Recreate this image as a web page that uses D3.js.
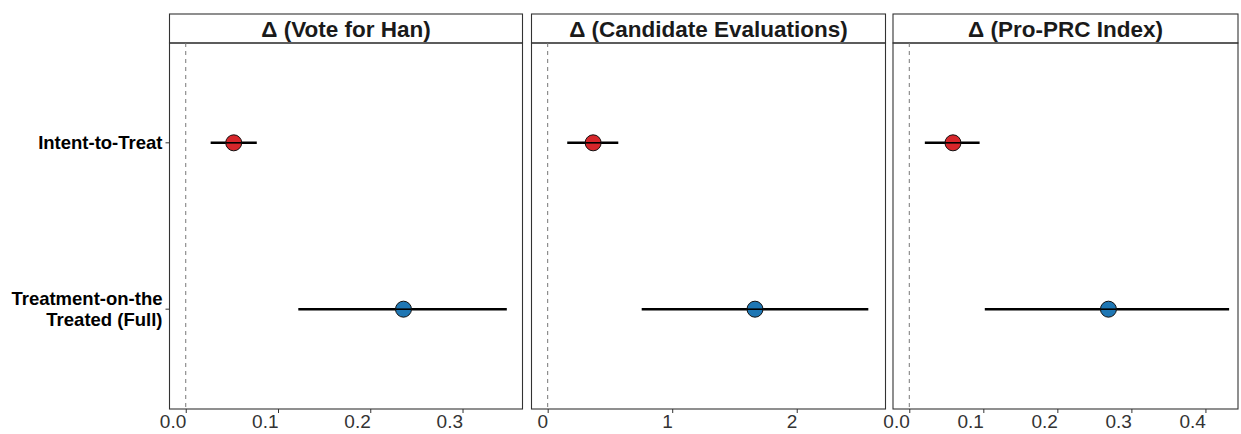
<!DOCTYPE html>
<html>
<head>
<meta charset="utf-8">
<script src="https://cdn.jsdelivr.net/npm/d3@7"></script>
<style>
  body { margin: 0; background: #fff; }
  svg { display: block; font-family: "Liberation Sans", Arial, sans-serif; }
</style>
</head>
<body>
<svg id="chart" width="1241" height="434"></svg>
<script>
// estimates and 95% intervals
const estimands = ['Intent-to-Treat', 'Treatment-on-the Treated (Full)'];
const panelTitles = ['\u0394 (Vote for Han)', '\u0394 (Candidate Evaluations)', '\u0394 (Pro-PRC Index)'];
const pointEst = [[0.052, 0.236], [0.365, 1.665], [0.059, 0.269]];
const lowerCI = [[0.027, 0.122], [0.157, 0.755], [0.021, 0.102]];
const upperCI = [[0.077, 0.348], [0.567, 2.575], [0.095, 0.432]];
const xDomains = [[-0.0176, 0.365], [-0.130, 2.713], [-0.022, 0.444]];
const xTicks = [[0, 0.1, 0.2, 0.3], [0, 1, 2], [0, 0.1, 0.2, 0.3, 0.4]];
const tickFormats = ['.1f', 'd', '.1f'];
const pointColors = ['#D7262B', '#1F77B4'];

const panelX = [[169.5, 522.5], [531.5, 885.5], [893, 1238]];
const stripTop = 14, panelTop = 43, panelBottom = 409;

const svg = d3.select('#chart');

const yScale = d3.scalePoint()
    .domain(estimands)
    .range([panelTop, panelBottom])
    .padding(0.6);

// y axis labels (left of first panel)
const yLab = svg.append('g').attr('class', 'y axis');
estimands.forEach((lab, i) => {
    const y = yScale(lab);
    yLab.append('line')
        .attr('x1', panelX[0][0] - 4).attr('x2', panelX[0][0])
        .attr('y1', y).attr('y2', y)
        .attr('stroke', '#333').attr('stroke-width', 1);
    const words = i === 0 ? [lab] : ['Treatment-on-the', 'Treated (Full)'];
    const t = yLab.append('text')
        .attr('x', panelX[0][0] - 7)
        .attr('y', y)
        .attr('text-anchor', 'end')
        .style('font-size', '18.5px')
        .style('font-weight', 'bold')
        .style('fill', '#000');
    words.forEach((w, j) => {
        t.append('tspan')
            .attr('x', panelX[0][0] - 7)
            .attr('dy', j === 0 ? (words.length === 1 ? '0.35em' : '-0.22em') : '1.12em')
            .text(w);
    });
});

panelTitles.forEach((title, p) => {
    const [x0, x1] = panelX[p];
    const xScale = d3.scaleLinear().domain(xDomains[p]).range([x0, x1]);
    const g = svg.append('g').attr('class', 'panel');

    // strip
    g.append('rect')
        .attr('x', x0).attr('y', stripTop)
        .attr('width', x1 - x0).attr('height', panelTop - stripTop)
        .attr('fill', '#fff').attr('stroke', '#333').attr('stroke-width', 1.1);
    g.append('text')
        .attr('x', (x0 + x1) / 2).attr('y', (stripTop + panelTop) / 2)
        .attr('dy', '0.36em')
        .attr('text-anchor', 'middle')
        .style('font-size', '22.5px')
        .style('font-weight', 'bold')
        .style('fill', '#1a1a1a')
        .text(title);

    // panel border
    g.append('rect')
        .attr('x', x0).attr('y', panelTop)
        .attr('width', x1 - x0).attr('height', panelBottom - panelTop)
        .attr('fill', 'none').attr('stroke', '#333').attr('stroke-width', 1.1);

    // zero line
    g.append('line')
        .attr('x1', xScale(0)).attr('x2', xScale(0))
        .attr('y1', panelTop).attr('y2', panelBottom)
        .attr('stroke', '#777').attr('stroke-width', 1)
        .attr('stroke-dasharray', '4,4');

    // x axis
    const axis = g.append('g')
        .attr('class', 'x axis')
        .attr('transform', `translate(0, ${panelBottom})`)
        .call(d3.axisBottom(xScale).tickValues(xTicks[p]).tickFormat(d3.format(tickFormats[p])).tickSizeOuter(0).tickSize(4));
    axis.select('.domain').remove();
    axis.selectAll('.tick line').attr('stroke', '#333');
    axis.selectAll('.tick text')
        .attr('text-anchor', 'end')
        .attr('x', 0)
        .attr('y', 6)
        .style('font-size', '19px')
        .style('font-family', '"Liberation Sans", Arial, sans-serif')
        .style('fill', '#333');

    // intervals and points
    estimands.forEach((lab, i) => {
        const y = yScale(lab);
        g.append('line')
            .attr('x1', xScale(lowerCI[p][i])).attr('x2', xScale(upperCI[p][i]))
            .attr('y1', y).attr('y2', y)
            .attr('stroke', '#000').attr('stroke-width', 2.4);
        g.append('circle')
            .attr('cx', xScale(pointEst[p][i])).attr('cy', y)
            .attr('r', 8)
            .attr('fill', pointColors[i])
            .attr('stroke', '#111').attr('stroke-width', 1);
        g.append('line')
            .attr('x1', xScale(pointEst[p][i]) - 8).attr('x2', xScale(pointEst[p][i]) + 8)
            .attr('y1', y).attr('y2', y)
            .attr('stroke', '#000').attr('stroke-width', 1.6);
    });
});
</script>
</body>
</html>
